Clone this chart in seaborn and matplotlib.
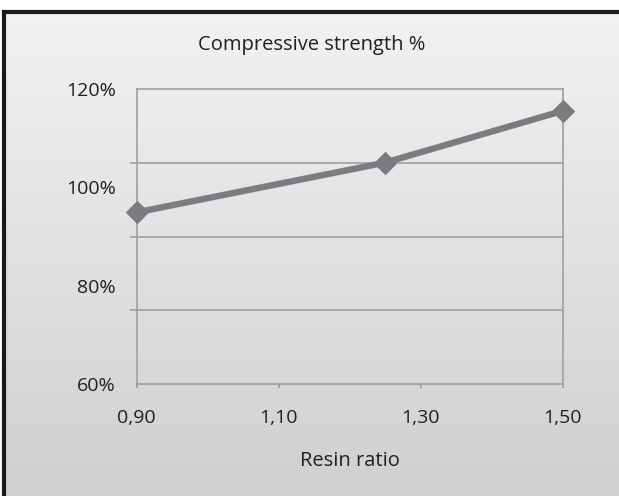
import matplotlib
matplotlib.use("Agg")
import matplotlib.pyplot as plt
import matplotlib.ticker as mticker
import numpy as np
import pandas as pd
import seaborn as sns

# ── Data ──────────────────────────────────────────────────────────────────────
resin_ratio = [0.90, 1.25, 1.50]
strength_pct = [94.9, 105.0, 115.5]
x_ticks = [0.90, 1.10, 1.30, 1.50]
x_tick_labels = ["0,90", "1,10", "1,30", "1,50"]
y_ticks = [60, 80, 100, 120]
y_tick_labels = ["60%", "80%", "100%", "120%"]
grid_levels = [60, 75, 90, 105, 120]

# ── Style ─────────────────────────────────────────────────────────────────────
LINE = "#7b7c7f"
GRID = "#a3a4a6"
TEXT = "#231f20"

sns.set_theme(style="white")
plt.rcParams["font.family"] = ["Open Sans", "DejaVu Sans"]

df = pd.DataFrame({"ratio": resin_ratio, "strength": strength_pct})

fig = plt.figure(figsize=(6.19, 4.96), dpi=100)
fig.patch.set_facecolor("white")

# background panel with vertical gradient and black frame
bg = fig.add_axes([4 / 619, 0, 1 - 4 / 619, 1 - 12 / 496])
grad = np.linspace(0, 1, 256).reshape(-1, 1)
cmap = matplotlib.colors.LinearSegmentedColormap.from_list(
    "bg", ["#f1f2f2", "#cfd0d2"])
bg.imshow(grad, aspect="auto", cmap=cmap, extent=[0, 1, 0, 1], origin="upper")
bg.set_xticks([]); bg.set_yticks([])
for side, sp in bg.spines.items():
    sp.set_color("#1a1a1a")
    sp.set_linewidth(3 if side in ("left", "top") else 0)
bg.set_zorder(0)

ax = fig.add_axes([136.7 / 619, 111.7 / 496, 426 / 619, 295.6 / 496])
ax.set_zorder(1)
ax.patch.set_alpha(0)

sns.lineplot(data=df, x="ratio", y="strength", ax=ax, color=LINE,
             linewidth=4.6, marker="D", markersize=11,
             markeredgecolor=LINE, markerfacecolor=LINE, zorder=3,
             clip_on=False)

ax.set_xlim(0.90, 1.50)
ax.set_ylim(60, 120)
ax.set_xticks(x_ticks)
ax.set_xticklabels(x_tick_labels)
ax.set_yticks(y_ticks)
ax.set_yticklabels(y_tick_labels)
ax.yaxis.set_minor_locator(mticker.FixedLocator(grid_levels))
ax.grid(False)
for lvl in grid_levels[1:-1]:
    ax.axhline(lvl, color=GRID, linewidth=1.3, zorder=1)

ax.tick_params(axis="y", which="major", length=0, pad=15, labelsize=14,
               labelcolor=TEXT)
ax.tick_params(axis="y", which="minor", length=5, width=1.3, color=GRID,
               direction="out", left=True)
ax.tick_params(axis="x", which="major", length=3, width=1.3, color=GRID,
               direction="out", pad=15, labelsize=14, labelcolor=TEXT,
               bottom=True)
for sp in ax.spines.values():
    sp.set_color(GRID)
    sp.set_linewidth(1.3)

ax.set_xlabel("Resin ratio", fontsize=14.5, color=TEXT, labelpad=17)
ax.set_ylabel("")
fig.text(0.503, 1 - 45 / 496, "Compressive strength %", ha="center",
         va="center", fontsize=14.5, color=TEXT)

fig.savefig("out.png", dpi=100, facecolor="white")
